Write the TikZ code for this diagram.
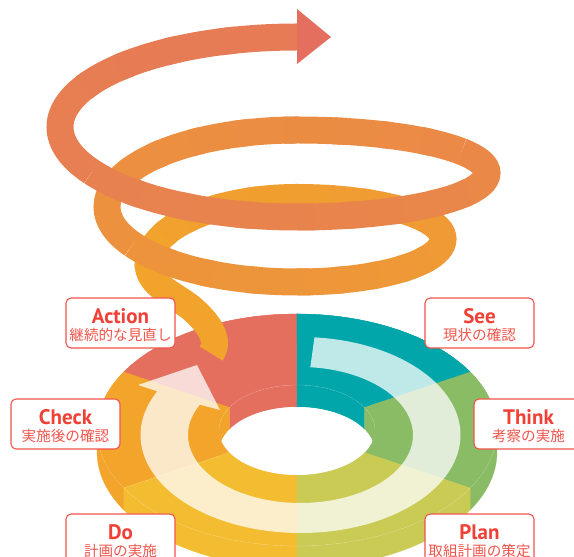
\documentclass[tikz,border=0pt]{standalone}
\usepackage{fontspec}
\setmainfont{PT Sans}
\newfontfamily\jpfont{Noto Sans CJK JP}
\definecolor{cAction}{HTML}{E56F5F}
\definecolor{cSee}{HTML}{00A6A9}
\definecolor{cThink}{HTML}{8ABB65}
\definecolor{cPlan}{HTML}{CACB55}
\definecolor{cDo}{HTML}{F4BC30}
\definecolor{cCheck}{HTML}{F2A42B}
\definecolor{cTail}{HTML}{F1A32B}
\definecolor{cHead}{HTML}{E67A57}
\definecolor{cLabel}{HTML}{EF4136}
\definecolor{cSub}{HTML}{F0554B}
\newcommand{\diskpart}[3]{%
  \begin{scope}[shift={(297,127)}]
    \path[fill=#3,draw=#3,line width=.2] (#1:200 and 116) arc[start angle=#1,end angle=#2,x radius=200,y radius=116] -- ++(0,-22) arc[start angle=#2,end angle=#1,x radius=200,y radius=116] -- cycle;
    \path[fill=#3,draw=#3,line width=.2] (#1:78 and 45) arc[start angle=#1,end angle=#2,x radius=78,y radius=45] -- ++(0,-22) arc[start angle=#2,end angle=#1,x radius=78,y radius=45] -- cycle;
    \path[fill=#3,draw=#3,line width=.2] (#1:200 and 116) arc[start angle=#1,end angle=#2,x radius=200,y radius=116] -- (#2:78 and 45) arc[start angle=#2,end angle=#1,x radius=78,y radius=45] -- cycle;
  \end{scope}}
% run of a spiral in low-curvature parts: cx cy rx ry a0 a1 pct0 pct1
\newcommand{\spiralrun}[8]{%
  \foreach \j in {0,...,3}{
    \pgfmathsetmacro{\sa}{#5+(#6-#5)*\j/4}
    \pgfmathsetmacro{\ea}{#5+(#6-#5)*(\j+1)/4}
    \pgfmathsetmacro{\sb}{\sa-(#6-#5)/15}
    \pgfmathtruncatemacro{\pc}{#7+(#8-#7)*\j/4}
    \draw[spiral,color=cHead!\pc!cTail] (#1,#2) ++(\sb:#3 and #4) arc[start angle=\sb,end angle=\ea,x radius=#3,y radius=#4];
  }}
\tikzset{
  x=1pt,y=1pt,
  spiral/.style={line width=27pt,line cap=butt},
  labelbox/.style={draw=cLabel!90!white,line width=1.1pt,fill=white,rounded corners=5pt,minimum width=109pt,minimum height=50pt,inner sep=0pt},
  titletext/.style={anchor=base,inner sep=0pt,text=cLabel,font=\fontsize{21}{21}\selectfont\bfseries},
  subtext/.style={anchor=base,inner sep=0pt,text=cSub,font=\jpfont\fontsize{14.6}{15}\selectfont},
  faint/.style={draw=white,draw opacity=.45,line width=.3pt,dash pattern=on 1.2pt off .7pt}
}
\newcommand{\lab}[5]{%
  \node[labelbox] (#1) at (#2,#3) {};
  \node[titletext] (#1t) at ([yshift=-1pt]#1.center) {#4};
  \node[subtext] (#1s) at ([yshift=-17.5pt]#1.center) {#5};}
\begin{document}
\begin{tikzpicture}
\path[use as bounding box,fill=white] (0,0) rectangle (574,557);
\clip (0,0) rectangle (574,557);
% disk
\diskpart{90}{150}{cAction}
\diskpart{30}{90}{cSee}
\diskpart{150}{210}{cCheck}
\diskpart{-30}{30}{cThink}
\diskpart{210}{270}{cDo}
\diskpart{270}{330}{cPlan}
% hole
\begin{scope}
  \clip (297,127) ellipse [x radius=78,y radius=45];
  \fill[white] (297,105) ellipse [x radius=78,y radius=45];
\end{scope}
% faint edges
\begin{scope}[shift={(297,127)}]
  \draw[faint] (190:200 and 116) arc[start angle=190,end angle=350,x radius=200,y radius=116];
  \draw[faint] (30:78 and 45) arc[start angle=30,end angle=150,x radius=78,y radius=45];
  \draw[faint] (150:78 and 45) arc[start angle=150,end angle=178,x radius=78,y radius=45];
  \draw[faint] (30:78 and 45) arc[start angle=30,end angle=2,x radius=78,y radius=45];
  \draw[faint] (210:200 and 116) -- (210:78 and 45);
\end{scope}
% white ring arrow
\begin{scope}[shift={(300.5,122)}]
  \fill[white,fill opacity=.75] (85:160 and 98) arc[start angle=85,end angle=-206.5,x radius=160,y radius=98] -- (-162.5,50) -- (-103.5,70) -- (-80.5,25) -- (-206.5:112.5 and 68) arc[start angle=-206.5,end angle=85,x radius=112.5,y radius=68] -- cycle;
\end{scope}
% spiral: tail and first bend
\draw[spiral,color=cTail] (211,203.5) .. controls (221,217) and (208,235) .. (190,250) .. controls (170,265) and (150,272) .. (148,292) arc[start angle=180,end angle=150,x radius=149,y radius=67.5];
\spiralrun{297}{292}{149}{67.5}{150}{90}{4}{11}
\spiralrun{297}{318}{146}{41.5}{90}{30}{11}{19}
\draw[spiral,color=cHead!22!cTail] (297,318) ++(30:146 and 41.5) arc[start angle=30,end angle=0,x radius=146,y radius=41.5] arc[start angle=0,end angle=-30,x radius=146,y radius=43];
\spiralrun{297}{318}{146}{43}{-30}{-90}{26}{33}
\spiralrun{297}{350}{190}{75}{-90}{-150}{33}{41}
\draw[spiral,color=cHead!44!cTail] (297,350) ++(-150:190 and 75) arc[start angle=-150,end angle=-180,x radius=190,y radius=75] arc[start angle=180,end angle=150,x radius=190,y radius=77];
\spiralrun{297}{350}{190}{77}{150}{90}{48}{55}
\spiralrun{297}{384}{190}{43}{90}{30}{55}{63}
\draw[spiral,color=cHead!67!cTail] (297,384) ++(30:190 and 43) arc[start angle=30,end angle=0,x radius=190,y radius=43] arc[start angle=0,end angle=-30,x radius=190,y radius=44];
\spiralrun{297}{384}{190}{44}{-30}{-90}{70}{77}
\spiralrun{297}{430}{237}{90}{-90}{-150}{77}{85}
\draw[spiral,color=cHead!89!cTail] (297,430) ++(-150:237 and 90) arc[start angle=-150,end angle=-210,x radius=237,y radius=90];
\spiralrun{297}{430}{237}{90}{150}{90}{92}{100}
\fill[cAction] (297,548) -- (331,520) -- (297,493) -- cycle;
% labels
\lab{action}{120.5}{234}{Action}{継続的な見直し}
\lab{see}{479.5}{234}{See}{現状の確認}
\lab{check}{65.5}{133}{Check}{実施後の確認}
\lab{think}{528.5}{133}{Think}{考察の実施}
\lab{do}{120.5}{18}{Do}{計画の実施}
\lab{plan}{479.5}{18}{Plan}{取組計画の策定}
\end{tikzpicture}
\end{document}
